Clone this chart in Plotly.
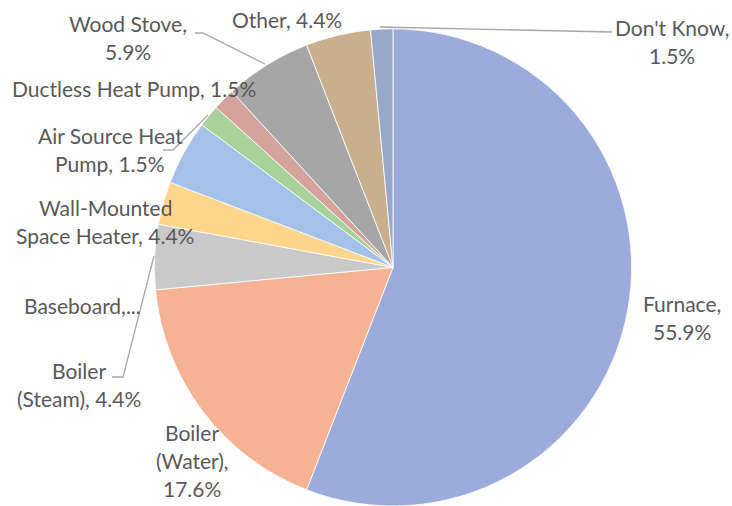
import plotly.graph_objects as go

# ---- data ----
categories = ["Furnace", "Boiler (Water)", "Boiler (Steam)", "Baseboard",
              "Wall-Mounted Space Heater", "Air Source Heat Pump",
              "Ductless Heat Pump", "Wood Stove", "Other", "Don't Know"]
shares = [55.9, 17.6, 4.4, 2.9, 4.4, 1.5, 1.5, 5.9, 4.4, 1.5]
colors = ["#9BACDC", "#F6B394", "#C9C9C9", "#FDD58B", "#A4C2E7",
          "#A8D29A", "#D4A49C", "#A6A6A6", "#C8AF8E", "#98A8C8"]

# label layout (text wrapping as shown, centre of first line in pixels)
label_templates = ["Furnace,\n{p}", "Boiler\n(Water),\n{p}", "Boiler\n(Steam), {p}",
                   "Baseboard,...", "Wall-Mounted\nSpace Heater, {p}",
                   "Air Source Heat\nPump, {p}", "Ductless Heat Pump, {p}",
                   "Wood Stove,\n{p}", "Other, {p}", "Don't Know,\n{p}"]
label_pos = [(682, 303), (192, 432), (79, 370), (82, 305), (105, 207),
             (110, 135), (134, 88), (128, 24), (287, 19), (672, 27)]
leader_lines = [
    [(195, 33), (203, 33), (265, 64)],     # Wood Stove
    [(163, 150), (173, 150), (208, 115)],  # Air Source Heat Pump
    [(112, 377), (123, 377), (154, 256)],  # Boiler (Steam)
    [(612, 32), (380, 27)],                # Don't Know
]

W, H = 732, 506
LINE_H = 28

def px(x):
    return x / W

def py(y):
    return 1 - y / H

fig = go.Figure(go.Pie(
    labels=categories, values=shares, sort=False, direction="clockwise",
    rotation=0, textinfo="none", hoverinfo="label+percent",
    marker=dict(colors=colors, line=dict(color="#FFFFFF", width=0.8)),
    domain=dict(x=[0.2104, 0.8634], y=[0.0, 0.943]),
    showlegend=False,
))

annotations = []
for tmpl, v, (cx, cy) in zip(label_templates, shares, label_pos):
    text = tmpl.format(p=f"{v:.1f}%")
    for i, line in enumerate(text.split("\n")):
        annotations.append(dict(
            x=px(cx), y=py(cy + i * LINE_H), xref="paper", yref="paper",
            text=line, showarrow=False, xanchor="center", yanchor="middle",
            font=dict(family="Lato, Carlito, sans-serif", size=21, color="#595959"),
        ))

shapes = []
for pts in leader_lines:
    path = "M " + " L ".join(f"{px(x)},{py(y)}" for x, y in pts)
    shapes.append(dict(type="path", path=path, xref="paper", yref="paper",
                       line=dict(color="#A6A6A6", width=1.3)))

fig.update_layout(
    width=W, height=H, margin=dict(l=0, r=0, t=0, b=0),
    paper_bgcolor="#FFFFFF", plot_bgcolor="#FFFFFF",
    annotations=annotations, shapes=shapes,
)

fig.write_html("out.html",
               config={"displayModeBar": False},
               post_script="document.body.style.margin='0';document.body.style.overflow='hidden';")
